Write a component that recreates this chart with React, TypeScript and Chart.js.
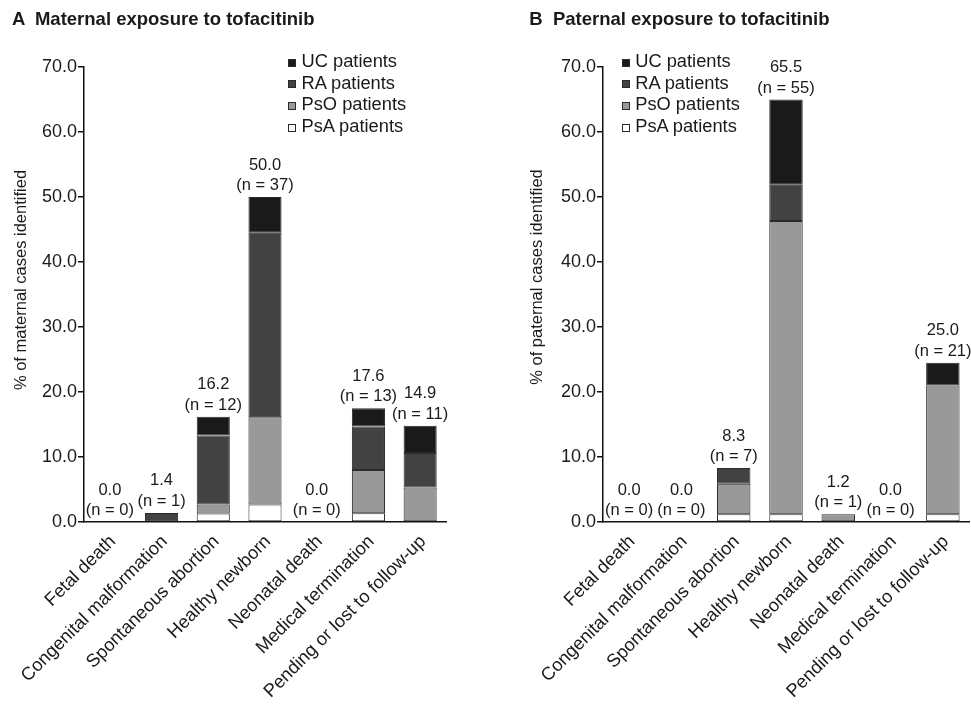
import React, { useEffect, useRef } from "react";
import { Chart, registerables } from "chart.js";
Chart.register(...registerables);

const categories = [
  "Fetal death",
  "Congenital malformation",
  "Spontaneous abortion",
  "Healthy newborn",
  "Neonatal death",
  "Medical termination",
  "Pending or lost to follow-up",
];
const seriesNames = ["UC patients", "RA patients", "PsO patients", "PsA patients"];
const seriesColors = ["#1a1a1a", "#424242", "#999999", "#ffffff"];
const yTicks = [0, 10, 20, 30, 40, 50, 60, 70];

// A: maternal exposure (% of maternal cases)
const maternalPsA = [0, 0, 1.3, 2.7, 0, 1.35, 0];
const maternalPsO = [0, 0, 1.4, 13.4, 0, 6.65, 5.3];
const maternalRA = [0, 1.4, 10.6, 28.4, 0, 6.7, 5.3];
const maternalUC = [0, 0, 2.9, 5.5, 0, 2.8, 4.2];
const maternalTotals = ["0.0", "1.4", "16.2", "50.0", "0.0", "17.6", "14.9"];
const maternalN = [0, 1, 12, 37, 0, 13, 11];

// B: paternal exposure (% of paternal cases)
const paternalPsA = [0, 0, 1.2, 1.2, 0, 0, 1.2];
const paternalPsO = [0, 0, 4.7, 45.1, 1.2, 0, 19.8];
const paternalRA = [0, 0, 2.4, 5.6, 0, 0, 0];
const paternalUC = [0, 0, 0, 13.1, 0, 0, 3.5];
const paternalTotals = ["0.0", "0.0", "8.3", "65.5", "1.2", "0.0", "25.0"];
const paternalN = [0, 0, 7, 55, 1, 0, 21];

const FAMILY = '"Liberation Sans", Arial, Helvetica, sans-serif';
const TEXT = "#1a1a1a";

const valueLabels = {
  id: "valueLabels",
  afterDatasetsDraw(chart: any, _args: any, opts: any) {
    const { ctx } = chart;
    const x = chart.scales.x;
    const y = chart.scales.y;
    ctx.save();
    ctx.font = `16.5px ${FAMILY}`;
    ctx.fillStyle = TEXT;
    ctx.textAlign = "center";
    ctx.textBaseline = "middle";
    chart.data.labels.forEach((_: any, i: number) => {
      let sum = 0;
      chart.data.datasets.forEach((d: any) => (sum += d.data[i] || 0));
      const px = x.getPixelForValue(i);
      const py = y.getPixelForValue(sum);
      ctx.fillText(opts.totals[i], px, py - 32);
      ctx.fillText(`(n = ${opts.n[i]})`, px, py - 11.5);
    });
    ctx.restore();
  },
  afterDraw(chart: any, _args: any, opts: any) {
    const { ctx } = chart;
    ctx.save();
    ctx.font = `16.5px ${FAMILY}`;
    ctx.fillStyle = TEXT;
    ctx.textAlign = "center";
    ctx.textBaseline = "middle";
    ctx.translate(opts.titleX, opts.titleY);
    ctx.rotate(-Math.PI / 2);
    ctx.fillText(opts.yTitle, 0, 0);
    ctx.restore();
  },
};

type PanelProps = {
  left: number;
  width: number;
  yWidth: number;
  padRight: number;
  psa: number[];
  pso: number[];
  ra: number[];
  uc: number[];
  totals: string[];
  n: number[];
  yTitle: string;
  titleX: number;
  titleY: number;
};

function Panel(p: PanelProps) {
  const ref = useRef<HTMLCanvasElement>(null);
  useEffect(() => {
    if (!ref.current) return;
    const mk = (label: string, data: number[], color: string) => ({
      label,
      data,
      backgroundColor: color,
      borderColor: "#2a2a2a",
      borderWidth: 1,
      borderSkipped: false,
      categoryPercentage: 1,
      barPercentage: 0.64,
    });
    const chart = new Chart(ref.current, {
      type: "bar",
      data: {
        labels: categories,
        datasets: [
          mk(seriesNames[3], p.psa, seriesColors[3]),
          mk(seriesNames[2], p.pso, seriesColors[2]),
          mk(seriesNames[1], p.ra, seriesColors[1]),
          mk(seriesNames[0], p.uc, seriesColors[0]),
        ] as any,
      },
      options: {
        animation: false,
        responsive: false,
        devicePixelRatio: 1,
        layout: { padding: { left: 0, top: 67, right: p.padRight, bottom: 0 } },
        plugins: {
          legend: { display: false },
          tooltip: { enabled: false },
          valueLabels: { totals: p.totals, n: p.n, yTitle: p.yTitle, titleX: p.titleX, titleY: p.titleY },
        } as any,
        scales: {
          x: {
            stacked: true,
            ticks: {
              autoSkip: false,
              maxRotation: 45,
              minRotation: 45,
              font: { family: FAMILY, size: 18.3 },
              color: TEXT,
              padding: 9,
              labelOffset: 3,
            },
            grid: { display: false, drawTicks: false },
            border: { display: true, color: "#111", width: 1.5 },
            afterFit: (s: any) => {
              s.height = 182;
            },
          },
          y: {
            stacked: true,
            min: 0,
            max: 70,
            afterBuildTicks: (s: any) => {
              s.ticks = yTicks.map((v) => ({ value: v }));
            },
            ticks: {
              font: { family: FAMILY, size: 18 },
              color: TEXT,
              padding: 1,
              callback: (v: any) => Number(v).toFixed(1),
            },
            grid: { drawOnChartArea: false, drawTicks: true, tickLength: 6, color: "#111", lineWidth: 1.5 },
            border: { display: true, color: "#111", width: 1.5 },
            afterFit: (s: any) => {
              s.width = p.yWidth;
            },
          },
        } as any,
      },
      plugins: [valueLabels as any],
    });
    return () => chart.destroy();
  }, []);
  return (
    <canvas
      ref={ref}
      width={p.width}
      height={704}
      style={{ position: "absolute", left: p.left, top: 0, width: p.width, height: 704 }}
    />
  );
}

function Legend({ left }: { left: number }) {
  return (
    <div style={{ position: "absolute", left, top: 50.2 }}>
      {seriesNames.map((name, i) => (
        <div key={name} style={{ position: "relative", height: 21.6, lineHeight: "21.6px", fontSize: 18.3, paddingLeft: 13.5, whiteSpace: "nowrap", color: TEXT }}>
          <span
            style={{
              position: "absolute",
              left: 0,
              top: 8.6,
              width: 8,
              height: 8,
              boxSizing: "border-box",
              background: seriesColors[i],
              border: "1px solid #2a2a2a",
            }}
          />
          {name}
        </div>
      ))}
    </div>
  );
}

export default function App() {
  return (
    <div style={{ position: "absolute", left: 0, top: 0, width: 971, height: 704, background: "#fff", fontFamily: FAMILY, overflow: "hidden" }}>
      <Panel
        left={0}
        width={485}
        yWidth={84}
        padRight={39}
        psa={maternalPsA}
        pso={maternalPsO}
        ra={maternalRA}
        uc={maternalUC}
        totals={maternalTotals}
        n={maternalN}
        yTitle="% of maternal cases identified"
        titleX={21.5}
        titleY={280}
      />
      <Panel
        left={515}
        width={456}
        yWidth={88}
        padRight={2}
        psa={paternalPsA}
        pso={paternalPsO}
        ra={paternalRA}
        uc={paternalUC}
        totals={paternalTotals}
        n={paternalN}
        yTitle="% of paternal cases identified"
        titleX={22}
        titleY={277}
      />
      <div style={{ position: "absolute", left: 12, top: 10, fontSize: 18.5, lineHeight: "18.5px", fontWeight: "bold", color: TEXT, whiteSpace: "pre" }}>
        {"A  Maternal exposure to tofacitinib"}
      </div>
      <div style={{ position: "absolute", left: 529.3, top: 10, fontSize: 18.5, lineHeight: "18.5px", fontWeight: "bold", color: TEXT, whiteSpace: "pre" }}>
        {"B  Paternal exposure to tofacitinib"}
      </div>
      <Legend left={288} />
      <Legend left={621.7} />
    </div>
  );
}
